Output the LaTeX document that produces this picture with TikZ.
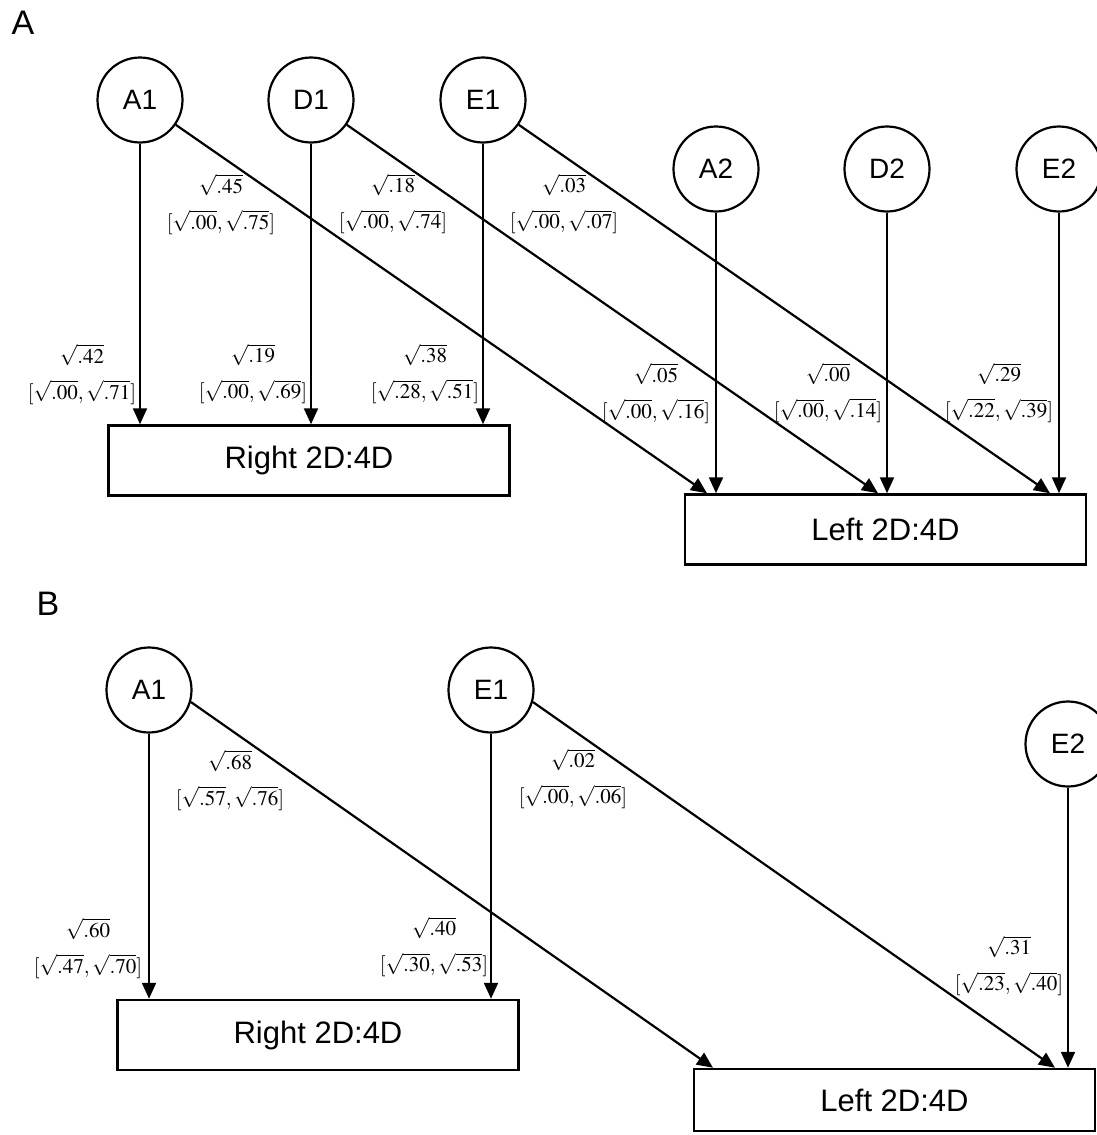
\documentclass[tikz,border=0pt]{standalone}
\usepackage{mathptmx}
\usepackage{fontspec}
\setmainfont{Liberation Serif}
\newfontfamily\arialfont{Liberation Sans}
\usetikzlibrary{arrows.meta,positioning}
\tikzset{
  latent/.style={circle, draw, line width=2.2pt, minimum size=85pt, inner sep=0pt,
    font=\arialfont\fontsize{28}{33}\selectfont},
  outcome/.style={rectangle, draw, line width=2.5pt, minimum width=401pt,
    minimum height=70pt, inner sep=0pt, font=\arialfont\fontsize{31}{36}\selectfont},
  effect/.style={line width=2.2pt, -{Triangle[length=16pt,width=14pt]}},
  est/.style={font=\fontsize{21}{36}\selectfont, align=center, inner sep=0pt},
  panel/.style={font=\arialfont\fontsize{34}{40}\selectfont, inner sep=0pt}
}
\begin{document}
\begin{tikzpicture}[x=1pt,y=-1pt]
        \useasboundingbox (0,0) rectangle (1097,1135);
        % Panel A
        \node[panel] (pA) at (23,22.5) {A};
        \node[latent] (A1) at (140,100) {A1};
        \node[latent] (D1) at (311,100) {D1};
        \node[latent] (E1) at (483,100) {E1};
        \node[latent] (A2) at (716,169) {A2};
        \node[latent] (D2) at (887,169) {D2};
        \node[latent] (E2) at (1059,169) {E2};
        \node[outcome] (rightA) at (309,460.5) {Right 2D:4D};
        \node[outcome] (leftA) at (885.5,529.5) {Left 2D:4D};
        % ends of the cross paths
        \coordinate (lA1) at ([xshift=-9pt]A2 |- leftA.north);
        \coordinate (lD1) at ([xshift=-9pt]D2 |- leftA.north);
        \coordinate (lE1) at ([xshift=-9pt]E2 |- leftA.north);
        \draw[effect] (A1) -- (A1 |- rightA.north);
        \draw[effect] (D1) -- (D1 |- rightA.north);
        \draw[effect] (E1) -- (E1 |- rightA.north);
        \draw[effect] (A2) -- (A2 |- leftA.north);
        \draw[effect] (D2) -- (D2 |- leftA.north);
        \draw[effect] (E2) -- (E2 |- leftA.north);
        \draw[effect] (A1) -- (lA1);
        \draw[effect] (D1) -- (lD1);
        \draw[effect] (E1) -- (lE1);
        % estimates
        \node[est] (cA1) at (221,204) {$\sqrt{.45}$\\$[\sqrt{.00},\sqrt{.75}]$};
        \node[est] (cD1) at (393,204) {$\sqrt{.18}$\\$[\sqrt{.00},\sqrt{.74}]$};
        \node[est] (cE1) at (564,204) {$\sqrt{.03}$\\$[\sqrt{.00},\sqrt{.07}]$};
        \node[est] (rA1) at (82,374) {$\sqrt{.42}$\\$[\sqrt{.00},\sqrt{.71}]$};
        \node[est] (rD1) at (253,374) {$\sqrt{.19}$\\$[\sqrt{.00},\sqrt{.69}]$};
        \node[est] (rE1) at (425,374) {$\sqrt{.38}$\\$[\sqrt{.28},\sqrt{.51}]$};
        \node[est] (lA2) at (656,393) {$\sqrt{.05}$\\$[\sqrt{.00},\sqrt{.16}]$};
        \node[est] (lD2) at (828,393) {$\sqrt{.00}$\\$[\sqrt{.00},\sqrt{.14}]$};
        \node[est] (lE2) at (999,393) {$\sqrt{.29}$\\$[\sqrt{.22},\sqrt{.39}]$};

        % Panel B
        \node[panel] (pB) at (48,604) {B};
        \node[latent] (bA1) at (149,690) {A1};
        \node[latent] (bE1) at (491,690) {E1};
        \node[latent] (bE2) at (1068,744) {E2};
        \node[outcome] (rightB) at (318,1035) {Right 2D:4D};
        \node[outcome, minimum height=62pt] (leftB) at (894.5,1100) {Left 2D:4D};
        \coordinate (lbA1) at ([xshift=-355pt]bE2 |- leftB.north);
        \coordinate (lbE1) at ([xshift=-13pt]bE2 |- leftB.north);
        \draw[effect] (bA1) -- (bA1 |- rightB.north);
        \draw[effect] (bE1) -- (bE1 |- rightB.north);
        \draw[effect] (bE2) -- (bE2 |- leftB.north);
        \draw[effect] (bA1.-16) -- (lbA1);
        \draw[effect] (bE1.-16) -- (lbE1);
        \node[est] (cbA1) at (230,780) {$\sqrt{.68}$\\$[\sqrt{.57},\sqrt{.76}]$};
        \node[est] (cbE1) at (573,779) {$\sqrt{.02}$\\$[\sqrt{.00},\sqrt{.06}]$};
        \node[est] (rbA1) at (88,948) {$\sqrt{.60}$\\$[\sqrt{.47},\sqrt{.70}]$};
        \node[est] (rbE1) at (434,947) {$\sqrt{.40}$\\$[\sqrt{.30},\sqrt{.53}]$};
        \node[est] (lbE2) at (1009,966) {$\sqrt{.31}$\\$[\sqrt{.23},\sqrt{.40}]$};
      \end{tikzpicture}
\end{document}
